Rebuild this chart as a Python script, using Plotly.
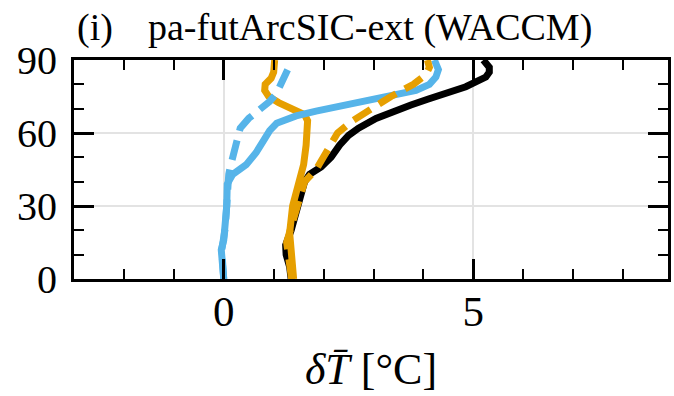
import plotly.graph_objects as go

# Zonal-mean temperature response profiles (latitude vs. warming)
black_lat = [0, 5, 10, 14, 20, 25, 30, 35, 40, 43, 46, 50, 55, 59, 62, 66, 69, 71.5, 74, 76, 79, 81, 83, 85, 87, 90]
black_dT = [1.35, 1.32, 1.25, 1.24, 1.35, 1.42, 1.48, 1.55, 1.62, 1.72, 1.95, 2.15, 2.32, 2.5, 2.7, 3.05, 3.4, 3.75, 4.1, 4.45, 4.85, 5.05, 5.25, 5.32, 5.32, 5.2]

orange_lat = [0, 10, 19, 30, 39, 47, 55, 60, 65, 67.5, 70, 72.5, 75, 77.5, 80, 82.5, 85, 88, 90]
orange_dT = [1.40, 1.36, 1.32, 1.38, 1.50, 1.60, 1.65, 1.68, 1.68, 1.62, 1.35, 1.10, 0.90, 0.82, 0.83, 0.95, 1.0, 1.0, 1.02]

orange_dash_lat = [0, 10, 15, 20, 30, 40, 45, 50, 55, 60, 65, 70, 75, 80, 84, 87, 90]
orange_dash_dT = [1.36, 1.28, 1.26, 1.33, 1.46, 1.62, 1.85, 2.0, 2.12, 2.28, 2.58, 2.95, 3.35, 3.8, 4.05, 4.12, 4.08]

blue_lat = [0, 5, 12, 16, 21, 30, 39, 43, 47, 52, 57, 61, 64, 67, 69, 71, 73, 75, 77.5, 80, 83, 86, 90]
blue_dT = [0.0, -0.02, -0.05, 0.0, 0.03, 0.06, 0.07, 0.18, 0.45, 0.65, 0.8, 0.92, 1.06, 1.45, 1.85, 2.3, 2.85, 3.3, 3.85, 4.12, 4.25, 4.3, 4.22]

blue_dash_lat = [0, 12, 21, 30, 39, 43, 46, 51, 57, 62, 66, 70, 73, 76, 80, 83, 86]
blue_dash_dT = [0.0, -0.04, 0.03, 0.06, 0.07, 0.1, 0.13, 0.19, 0.24, 0.33, 0.5, 0.76, 0.92, 1.05, 1.15, 1.22, 1.28]

x_ticks = [0, 5]
y_ticks = [0, 30, 60, 90]

BLACK = "#000000"
ORANGE = "#E69F00"
BLUE = "#56B4E9"
LW = 7
DASH = "20px,10px"
FONT = "Liberation Serif, Times New Roman, serif"

fig = go.Figure()
fig.add_trace(go.Scatter(x=black_dT, y=black_lat, mode="lines",
                         line=dict(color=BLACK, width=LW)))
fig.add_trace(go.Scatter(x=orange_dT, y=orange_lat, mode="lines",
                         line=dict(color=ORANGE, width=LW)))
fig.add_trace(go.Scatter(x=blue_dT, y=blue_lat, mode="lines",
                         line=dict(color=BLUE, width=LW)))
fig.add_trace(go.Scatter(x=orange_dash_dT, y=orange_dash_lat, mode="lines",
                         line=dict(color=ORANGE, width=LW, dash=DASH)))
fig.add_trace(go.Scatter(x=blue_dash_dT, y=blue_dash_lat, mode="lines",
                         line=dict(color=BLUE, width=LW, dash=DASH)))

axis_common = dict(
    showline=True, linecolor="black", linewidth=3, mirror="ticks",
    ticks="inside", tickcolor="black", tickwidth=3, ticklen=20,
    showgrid=True, gridcolor="#e3e3e3", gridwidth=2,
    zeroline=False,
)

fig.update_xaxes(
    range=[-3, 8.9], tickvals=x_ticks, ticktext=[str(v) for v in x_ticks],
    tickfont=dict(family=FONT, size=43, color="black"),
    minor=dict(dtick=1, tick0=0, ticks="inside", ticklen=10, tickwidth=2,
               tickcolor="black", showgrid=False),
    ticklabelstandoff=-8,
    title=dict(text="<i>δT\u0304</i> [°C]", font=dict(family=FONT, size=44, color="black"),
               standoff=20),
    **axis_common,
)
fig.update_yaxes(
    range=[0, 90], tickvals=y_ticks, ticktext=[str(v) for v in y_ticks],
    tickfont=dict(family=FONT, size=40, color="black"),
    minor=dict(dtick=10, tick0=0, ticks="inside", ticklen=10, tickwidth=2,
               tickcolor="black", showgrid=False),
    ticklabelstandoff=6,
    **axis_common,
)

fig.add_annotation(text="(i)", xref="paper", yref="paper", x=0, y=1,
                   xanchor="left", yanchor="middle", xshift=1, yshift=33,
                   showarrow=False, font=dict(family=FONT, size=38, color="black"))
fig.add_annotation(text="pa-futArcSIC-ext (WACCM)", xref="paper", yref="paper", x=0, y=1,
                   xanchor="left", yanchor="middle", xshift=72, yshift=33,
                   showarrow=False, font=dict(family=FONT, size=38, color="black"))

fig.update_layout(
    width=674, height=396,
    margin=dict(l=74, r=3, t=60, b=117),
    plot_bgcolor="white", paper_bgcolor="white",
    showlegend=False,
)

fig.write_html("out.html")
